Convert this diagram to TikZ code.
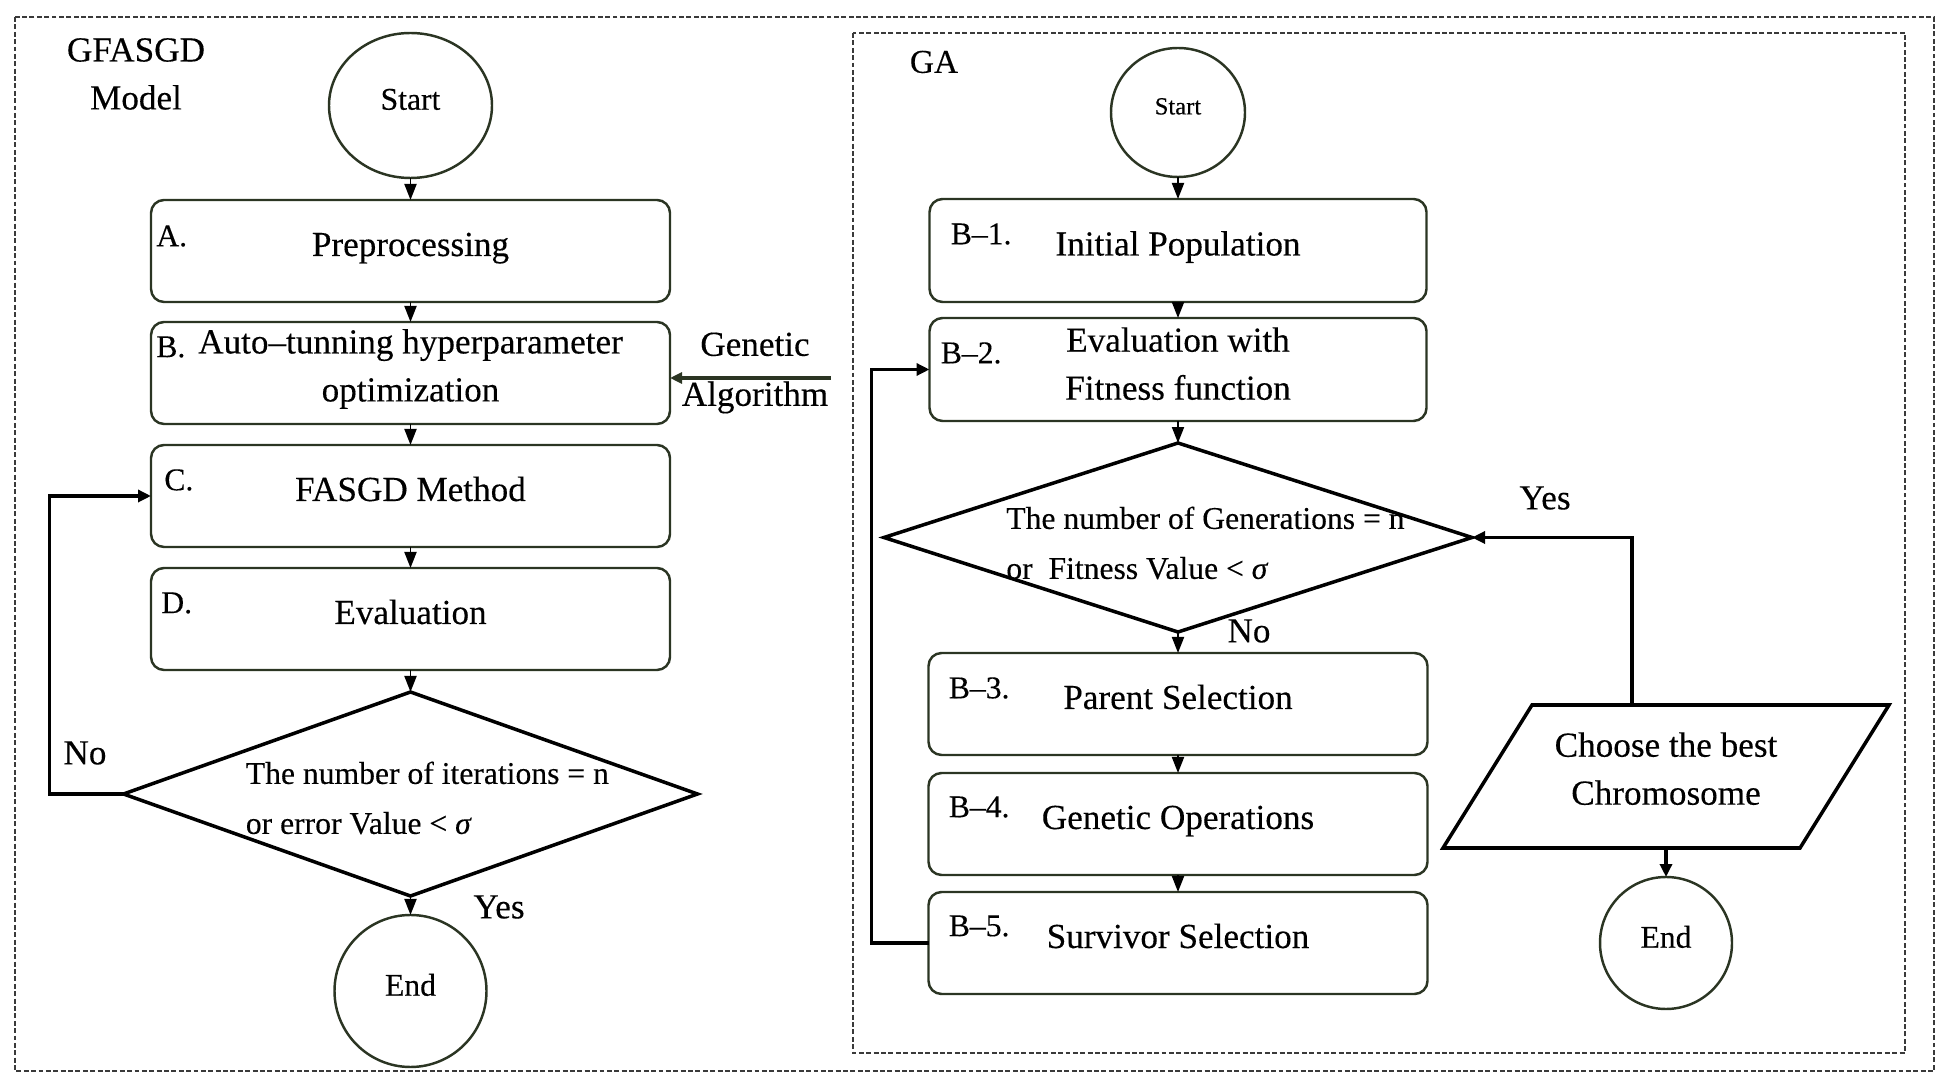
\documentclass[tikz,border=0pt]{standalone}
\usepackage{fontspec}
\setmainfont{Liberation Serif}[FakeBold=0.3]
\usepackage{tikz}
\usetikzlibrary{shapes.geometric, arrows.meta, positioning}
\definecolor{boxline}{HTML}{2B3523}
\definecolor{framegray}{HTML}{3A3A3A}
\newcommand{\boxfont}{\fontsize{20}{27.3}\selectfont}
\newcommand{\lblfont}{\fontsize{18}{21}\selectfont}
\newcommand{\condfont}{\fontsize{18}{28.45}\selectfont}
\newcommand{\termfont}{\fontsize{18}{22}\selectfont}
\newcommand{\smalltermfont}{\fontsize{14}{17}\selectfont}
\newcommand{\lift}[1]{\rule[-#1]{0pt}{0pt}}
\tikzset{
  stepbox/.style={rectangle, rounded corners=0.26cm, draw=boxline, line width=1.4pt, outer sep=0pt, minimum width=10.38cm, minimum height=2.04cm, inner sep=0pt, align=center, font=\boxfont},
  oneline/.style={text height=0.48cm, text depth=0.28cm},
  gabox/.style={stepbox, minimum width=9.94cm, minimum height=2.06cm},
  terminal/.style={ellipse, draw=boxline, line width=1.4pt, outer sep=0pt, inner sep=0pt, text depth=0.25cm, font=\termfont},
  decision/.style={diamond, draw=black, line width=2pt, outer sep=0pt, inner sep=0pt},
  condtext/.style={align=left, inner sep=0pt, font=\condfont},
  data/.style={rectangle, outer sep=0pt, inner sep=0pt, align=center, font=\boxfont},
  slanted/.style={draw=black, line width=2pt, line join=miter},
  lbl/.style={inner sep=0pt, anchor=west, font=\lblfont},
  sidetext/.style={inner sep=0pt, font=\boxfont},
  arrow/.style={line width=1.1pt, -{Triangle[length=0.32cm, width=0.24cm]}},
  looparrow/.style={line width=2.2pt, -{Triangle[length=0.26cm, width=0.24cm]}},
  gaarrow/.style={draw=boxline, line width=2.2pt, -{Triangle[length=0.24cm, width=0.22cm]}},
  dashframe/.style={draw=framegray, line width=0.6pt, dash pattern=on 2.8pt off 1.4pt}
}

\begin{document}
\begin{tikzpicture}
\useasboundingbox (0,0) rectangle (38.96,-21.72);
% frames
\draw[dashframe] (0.30,-0.34) rectangle (38.68,-21.42);
\draw[dashframe] (17.06,-0.66) rectangle (38.10,-21.06);

% GFASGD model column
\node[sidetext, align=center] (model) at (2.72,-1.48) {GFASGD\\Model};
\node[terminal, minimum width=3.26cm, minimum height=2.90cm] (startL) at (8.21,-2.11) {Start};
\node[stepbox, oneline, below=0.44cm of startL] (boxA) {Preprocessing};
\node[stepbox, below=0.40cm of boxA] (boxB) {Auto--tunning hyperparameter\\optimization\lift{0.31cm}};
\node[stepbox, oneline, below=0.42cm of boxB] (boxC) {FASGD Method};
\node[stepbox, oneline, below=0.42cm of boxC] (boxD) {Evaluation};
\node[decision, minimum width=11.48cm, minimum height=4.08cm, below=0.44cm of boxD] (condL) {};
\node[terminal, minimum width=3.04cm, minimum height=3.04cm, below=0.38cm of condL] (endL) {End};

\node[lbl] (labA) at ([xshift=0.10cm, yshift=-0.72cm]boxA.north west) {A.};
\node[lbl] (labB) at ([xshift=0.10cm, yshift=-0.50cm]boxB.north west) {B.};
\node[lbl] (labC) at ([xshift=0.26cm, yshift=-0.70cm]boxC.north west) {C.};
\node[lbl] (labD) at ([xshift=0.20cm, yshift=-0.70cm]boxD.north west) {D.};
\node[condtext, anchor=west] (condLtxt) at ([xshift=-3.30cm, yshift=-0.08cm]condL.center) {The number of iterations = n\\or error Value < \textit{σ}};

\node[sidetext] (noL) at (1.70,-15.06) {No};
\node[sidetext] (yesL) at (9.98,-18.14) {Yes};

\draw[arrow] (startL) -- (boxA);
\draw[arrow] (boxA) -- (boxB);
\draw[arrow] (boxB) -- (boxC);
\draw[arrow] (boxC) -- (boxD);
\draw[arrow] (boxD) -- (condL);
\draw[arrow] (condL) -- (endL);
\draw[looparrow] (condL.west) -- ++(-1.48cm,0) |- (boxC.west);

% link to GA
\node[sidetext, align=center, font=\fontsize{20}{28.45}\selectfont] (gaText) at (15.10,-7.46) {Genetic\\Algorithm};
\coordinate (gaIn) at (16.62,-7.56);
\draw[gaarrow] (gaIn) -- (gaIn -| boxB.east);

% GA column
\node[sidetext, font=\fontsize{19}{22}\selectfont] (gaTitle) at (18.68,-1.24) {GA};
\node[terminal, font=\smalltermfont, minimum width=2.68cm, minimum height=2.58cm] (startR) at (23.56,-2.25) {Start};
\node[gabox, oneline, below=0.44cm of startR] (b1) {Initial Population};
\node[gabox, below=0.32cm of b1] (b2) {Evaluation with\\Fitness function\lift{0.24cm}};
\node[decision, minimum width=11.76cm, minimum height=3.78cm, below=0.44cm of b2] (condR) {};
\node[gabox, oneline, minimum width=9.98cm, minimum height=2.04cm, below=0.42cm of condR] (b3) {Parent Selection};
\node[gabox, oneline, minimum width=9.98cm, minimum height=2.04cm, below=0.36cm of b3] (b4) {Genetic Operations};
\node[gabox, oneline, minimum width=9.98cm, minimum height=2.04cm, below=0.34cm of b4] (b5) {Survivor Selection};
\node[data, minimum width=8.92cm, minimum height=2.86cm] (best) at (33.32,-15.53) {Choose the best\\Chromosome\lift{0.32cm}};
\draw[slanted] (best.south west) -- ([xshift=-1.78cm]best.south east) -- (best.north east) -- ([xshift=1.78cm]best.north west) -- cycle;
\node[terminal, minimum width=2.64cm, minimum height=2.64cm, below=0.58cm of best] (endR) {End};

\node[lbl] (lab1) at ([xshift=0.42cm, yshift=-0.70cm]b1.north west) {B--1.};
\node[lbl] (lab2) at ([xshift=0.22cm, yshift=-0.70cm]b2.north west) {B--2.};
\node[lbl] (lab3) at ([xshift=0.40cm, yshift=-0.70cm]b3.north west) {B--3.};
\node[lbl] (lab4) at ([xshift=0.40cm, yshift=-0.68cm]b4.north west) {B--4.};
\node[lbl] (lab5) at ([xshift=0.40cm, yshift=-0.68cm]b5.north west) {B--5.};
\node[condtext, anchor=west] (condRtxt) at ([xshift=-3.44cm, yshift=-0.11cm]condR.center) {The number of Generations = n\\or~~Fitness Value < \textit{σ}};

\node[sidetext] (yesR) at (30.90,-9.96) {Yes};
\node[sidetext] (noR) at (24.98,-12.62) {No};

\draw[arrow] (startR) -- (b1);
\draw[arrow] (b1) -- (b2);
\draw[arrow] (b2) -- (condR);
\draw[arrow] (condR) -- (b3);
\draw[arrow] (b3) -- (b4);
\draw[arrow] (b4) -- (b5);
\draw[looparrow] (b5.west) -- ++(-1.14cm,0) |- (b2.west);
\draw[looparrow] ([xshift=-0.68cm]best.north) |- (condR.east);
\draw[looparrow] (best) -- (endR);
\end{tikzpicture}
\end{document}
